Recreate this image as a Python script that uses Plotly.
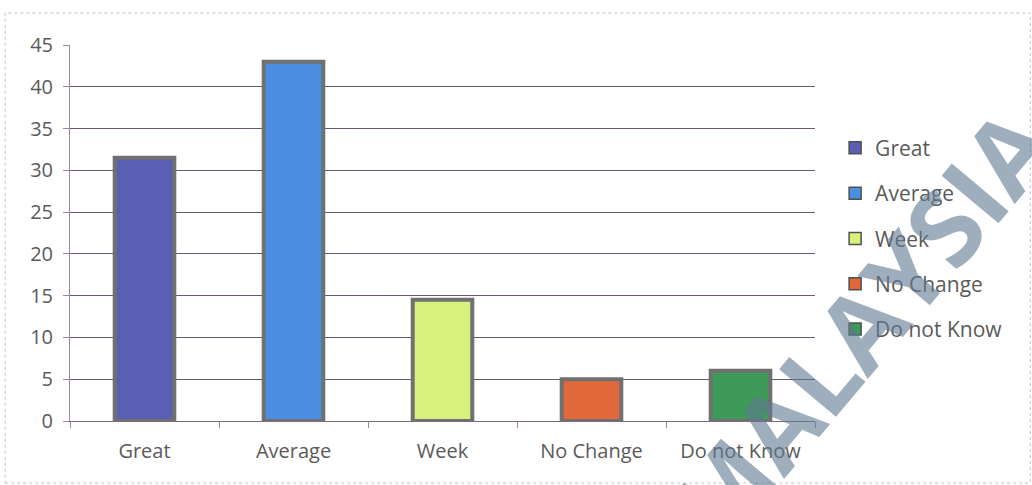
import plotly.graph_objects as go

categories = ["Great", "Average", "Week", "No Change", "Do not Know"]
values = [31.5, 43, 14.5, 5, 6]
colors = ["#5a5fb4", "#4b8fe2", "#d6f27c", "#e0683a", "#3e9a58"]
y_ticks = [0, 5, 10, 15, 20, 25, 30, 35, 40, 45]

fig = go.Figure()
for c, v, col in zip(categories, values, colors):
    fig.add_trace(go.Bar(
        x=[c], y=[v], name=c, width=0.4, showlegend=False,
        marker=dict(color=col, line=dict(color="#707070", width=4)),
    ))
# legend entries (square swatches like the original)
for c, col in zip(categories, colors):
    fig.add_trace(go.Scatter(
        x=[None], y=[None], name=c, mode="markers", legendgroup=c,
        marker=dict(symbol="square", size=12, color=col,
                    line=dict(color="#505050", width=1.5)),
    ))

font_family = "Open Sans, sans-serif"
fig.update_layout(
    width=1032, height=485,
    margin=dict(l=70, r=217, t=45, b=64),
    paper_bgcolor="white", plot_bgcolor="white",
    barmode="overlay",
    showlegend=True,
    font=dict(family=font_family, size=20, color="#5a5a5a"),
    legend=dict(x=1.027, y=0.78, xanchor="left", yanchor="top",
                font=dict(size=21, color="#5a5a5a"),
                tracegroupgap=15, itemwidth=30,
                bgcolor="rgba(0,0,0,0)"),
    xaxis=dict(categoryorder="array", categoryarray=categories,
               showline=True, linecolor="#7a6a7a", linewidth=1,
               ticks="outside", ticklen=6, tickcolor="#9a8a9a",
               tickson="boundaries", ticklabelstandoff=12,
               showgrid=False, tickfont=dict(size=20, color="#5a5a5a")),
    yaxis=dict(range=[0, 45], tickvals=y_ticks,
               showgrid=True, gridcolor="#6a5a70", gridwidth=1,
               showline=True, linecolor="#9a8a9a", linewidth=1,
               ticks="outside", ticklen=6, tickcolor="#9a8a9a",
               ticklabelstandoff=6, zeroline=False,
               tickfont=dict(size=20, color="#5a5a5a")),
)

fig.add_shape(type="rect", xref="paper", yref="paper",
              x0=-0.087, x1=1.289, y0=-0.165, y1=1.085,
              line=dict(color="#c8bcc8", width=1, dash="dot"))

fig.add_annotation(text="<b>MALAYSIA</b>", xref="paper", yref="paper",
                   x=1.06, y=0.255, xanchor="center", yanchor="middle",
                   showarrow=False, textangle=-50,
                   font=dict(size=104, color="rgba(95,120,145,0.6)",
                             family="Open Sans, sans-serif"))

fig.write_html("out.html")
